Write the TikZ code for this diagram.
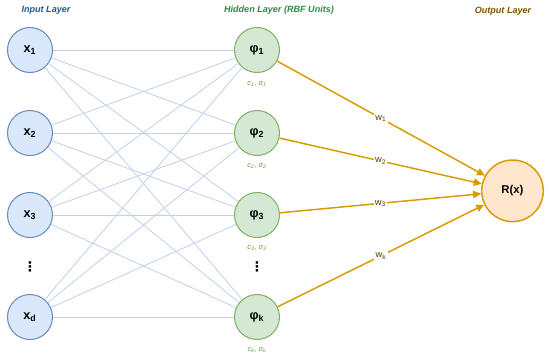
\documentclass[tikz,border=0pt]{standalone}
\usepackage{fontspec}
\setmainfont{Liberation Sans}
\newfontfamily\dejavu{DejaVu Sans}
\usetikzlibrary{arrows.meta}
\definecolor{inFill}{HTML}{DAE8FC}
\definecolor{inDraw}{HTML}{6C8EBF}
\definecolor{hidFill}{HTML}{D5E8D4}
\definecolor{hidDraw}{HTML}{82B366}
\definecolor{outFill}{HTML}{FFE6CC}
\definecolor{outDraw}{HTML}{D79B00}
\definecolor{connCol}{HTML}{BFD0EA}
\definecolor{inTitle}{HTML}{1F5A8A}
\definecolor{hidTitle}{HTML}{2E8B47}
\definecolor{outTitle}{HTML}{7F5200}
\definecolor{wCol}{HTML}{5C3D00}
\definecolor{cCol}{HTML}{5E9A3C}
\tikzset{
  innode/.style={circle, draw=inDraw, fill=inFill, line width=0.8pt, minimum size=33.75pt, inner sep=0pt, font=\fontsize{9.5}{10}\selectfont\bfseries},
  hidnode/.style={circle, draw=hidDraw, fill=hidFill, line width=0.8pt, minimum size=33.75pt, inner sep=0pt, font=\fontsize{9.5}{10}\selectfont\bfseries},
  outnode/.style={circle, draw=outDraw, fill=outFill, line width=1.1pt, minimum size=46.2pt, inner sep=0pt, font=\fontsize{8.5}{10}\selectfont\bfseries},
  conn/.style={draw=connCol, line width=0.6pt},
  warrow/.style={draw=outDraw, line width=1.1pt, -{Triangle[length=6pt,width=5.5pt]}},
  wlab/.style={fill=white, inner sep=1pt, text=wCol, font=\fontsize{7}{8}\selectfont},
  clab/.style={text=cCol, inner sep=0pt, font=\fontsize{5.5}{6}\selectfont\itshape},
  titlelab/.style={inner sep=0pt, font=\fontsize{6.8}{7}\selectfont\bfseries\itshape},
  dotslab/.style={inner sep=0pt, font=\dejavu\bfseries\fontsize{10}{10}\selectfont}
}
\begin{document}
\begin{tikzpicture}[x=0.75pt,y=-0.75pt]
\useasboundingbox (0,0) rectangle (550,358);
% titles
\node[titlelab, text=inTitle] (tin) at (46,10) {Input Layer};
\node[titlelab, text=hidTitle] (thid) at (279,10) {Hidden Layer (RBF Units)};
\node[titlelab, text=outTitle] (tout) at (503,11) {Output Layer};
% input nodes
\node[innode] (x1) at (30,50) {x\textsubscript{1}};
\node[innode] (x2) at (30,133) {x\textsubscript{2}};
\node[innode] (x3) at (30,215) {x\textsubscript{3}};
\node[innode] (xd) at (30,317) {x\textsubscript{d}};
\node[dotslab] (din) at (30,267) {⋮};
% hidden nodes
\node[hidnode] (p1) at (257,50) {φ\textsubscript{1}};
\node[hidnode] (p2) at (257,133) {φ\textsubscript{2}};
\node[hidnode] (p3) at (257,215) {φ\textsubscript{3}};
\node[hidnode] (pk) at (257,317) {φ\textsubscript{k}};
\node[dotslab] (dhid) at (257,267) {⋮};
% centre labels
\node[clab] (c1) at (257,84) {c\textsubscript{1}, σ\textsubscript{1}};
\node[clab] (c2) at (257,166) {c\textsubscript{2}, σ\textsubscript{2}};
\node[clab] (c3) at (257,248) {c\textsubscript{3}, σ\textsubscript{3}};
\node[clab] (ck) at (257,350) {c\textsubscript{k}, σ\textsubscript{k}};
% output
\node[outnode] (out) at (512.5,190.8) {R(x)};
% connections input -> hidden
\foreach \i in {x1,x2,x3,xd}{
  \foreach \j in {p1,p2,p3,pk}{
    \draw[conn] (\i) -- (\j);
  }
}
% weights
\draw[warrow] (p1) -- node[wlab] (w1) {w\textsubscript{1}} (out);
\draw[warrow] (p2) -- node[wlab] (w2) {w\textsubscript{2}} (out);
\draw[warrow] (p3) -- node[wlab] (w3) {w\textsubscript{3}} (out);
\draw[warrow] (pk) -- node[wlab] (wk) {w\textsubscript{k}} (out);
\end{tikzpicture}
\end{document}
